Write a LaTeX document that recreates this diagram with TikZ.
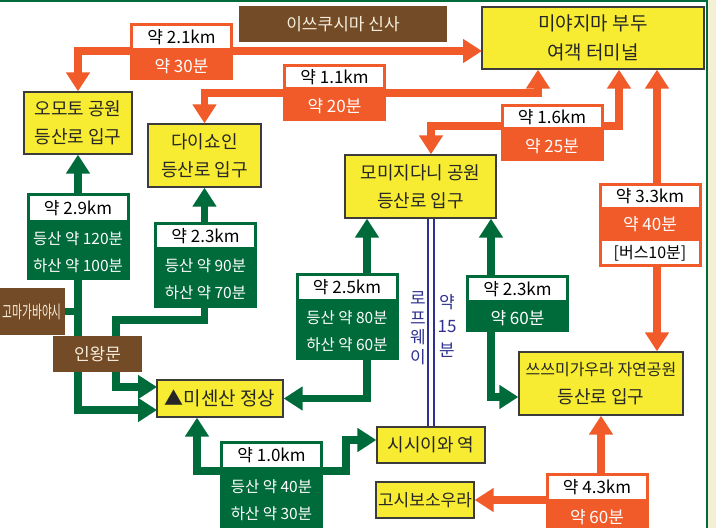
\documentclass[tikz,border=0pt]{standalone}
\usepackage{fontspec}
\setmainfont{Noto Sans CJK KR}
\usepackage{graphicx}
\usetikzlibrary{arrows.meta,positioning}

\definecolor{routeorange}{HTML}{F15A29}
\definecolor{routegreen}{HTML}{006B3A}
\definecolor{spotyellow}{HTML}{F7EC31}
\definecolor{gatebrown}{HTML}{744B27}
\definecolor{gatetext}{HTML}{F6EEDC}
\definecolor{ropeblue}{HTML}{2E3192}
\definecolor{boxline}{HTML}{3C3C3C}
\definecolor{mapbg}{HTML}{F3F0D6}

\tikzset{rtip/.tip={Triangle[length=19pt,width=23pt]}}

\begin{document}
\begin{tikzpicture}[
    x=1pt, y=-1pt,
    spot/.style={rectangle, draw=boxline, line width=1.3pt, fill=spotyellow, text=black!85, align=center, inner sep=2pt, font=\fontsize{18}{28}\selectfont},
    gate/.style={rectangle, fill=gatebrown, text=gatetext, inner sep=0pt, font=\fontsize{17}{28}\selectfont},
    okm/.style={rectangle, fill=white, draw=routeorange, line width=3pt, minimum width=100pt, inner sep=0pt, font=\fontsize{17}{20}\selectfont},
    otime/.style={rectangle, fill=routeorange, text=white, minimum width=103pt, inner sep=0pt, font=\fontsize{17}{20}\selectfont},
    gkm/.style={rectangle, fill=white, draw=routegreen, line width=3pt, minimum width=100pt, inner sep=0pt, font=\fontsize{17}{20}\selectfont},
    gtime/.style={rectangle, fill=routegreen, text=white, minimum width=103pt, inner sep=0pt, align=center, font=\fontsize{15.5}{27}\selectfont},
    oleg/.style={draw=routeorange, line width=7.5pt, rtip-rtip},
    gleg/.style={draw=routegreen, line width=7.5pt, rtip-rtip},
    gline/.style={draw=routegreen, line width=7.5pt},
    rope/.style={draw=ropeblue, line width=2pt, double=white, double distance=4pt},
    ropetext/.style={text=ropeblue, align=center, inner sep=0pt}
]
\useasboundingbox (0,0) rectangle (716,528);

% Map edge
\fill[mapbg] (707,0) rectangle (716,528);
\draw[routegreen, line width=2pt] (707,0) -- (707,528);
\draw[routegreen, line width=1.5pt] (0,0.75) -- (707,0.75);

% Places
\node[spot, minimum width=222pt, minimum height=62pt, font=\fontsize{19}{29}\selectfont] (miya) at (593,38) {미야지마 부두\\여객 터미널};
\node[gate, minimum width=208pt, minimum height=36pt] (shrine) at (343,24) {이쓰쿠시마 신사};
\node[spot, minimum width=108pt, minimum height=62pt] (omoto) at (78,123) {오모토 공원\\등산로 입구};
\node[spot, minimum width=113pt, minimum height=63pt] (daisho) at (204.5,155.5) {다이쇼인\\등산로 입구};
\node[spot, minimum width=151pt, minimum height=63pt] (momiji) at (420.5,186.5) {모미지다니 공원\\등산로 입구};
\node[spot, minimum width=126pt, minimum height=37pt, font=\fontsize{19}{28}\selectfont] (misen) at (220,398.5) {▲미센산 정상};
\node[spot, minimum width=164pt, minimum height=63pt] (tsutsu) at (601,383.5) {{\fontsize{16}{28}\selectfont 쓰쓰미가우라 자연공원}\\등산로 입구};
\node[spot, minimum width=108pt, minimum height=36pt] (shishi) at (431,445) {시시이와 역};
\node[spot, minimum width=98pt, minimum height=36pt, font=\fontsize{17}{28}\selectfont] (koshi) at (425,500) {고시보소우라};
\node[gate, minimum width=65pt, minimum height=47pt, anchor=east] (koma) at (65,311.5) {\scalebox{0.61}[1]{\fontsize{17.5}{20}\selectfont 고마가바야시}};

% Junctions
\coordinate (a1) at (482,51);
\coordinate (k2) at (538,93);
\coordinate (k3) at (619,126);
\coordinate (k3b) at (431,126);
\coordinate (k4) at (657,0);
\coordinate (m1) at (157,387);
\coordinate (m2) at (157,410);
\coordinate (k6) at (116,320);
\coordinate (k7) at (367,0);
\coordinate (k8) at (491,397);
\coordinate (k9) at (197,471);
\coordinate (k10) at (346,440);

% Bus and walking routes
\draw[oleg] (omoto.north) |- (a1);
\draw[oleg] (daisho.north) |- (k2) -- (k2 |- miya.south);
\draw[oleg] (k3b |- momiji.north) -- (k3b) -- (k3) -- (k3 |- miya.south);
\draw[oleg] (k4 |- miya.south) -- (k4 |- tsutsu.north);
\draw[oleg] (koshi.east) -| (tsutsu.south);

% Hiking trails
\draw[gline] (koma.east) -- (koma.east -| omoto.south);
\draw[gleg] (omoto.south) |- (m2);
\draw[gleg] (daisho.south) |- (k6) |- (m1);
\draw[gleg] (k7 |- momiji.south) |- (misen.east);
\draw[gleg] (k8 |- momiji.south) -- (k8) -- (k8 -| tsutsu.west);
\draw[gleg] (k9 |- misen.south) -- (k9) -| (k10) -- (k10 -| shishi.west);

% Ropeway
\draw[rope] (shishi.north |- momiji.south) -- (shishi.north);
\node[ropetext, font=\fontsize{17}{19.5}\selectfont] (ropename) at (418,328) {로\\프\\웨\\이};
\node[ropetext, font=\fontsize{17}{24}\selectfont] (ropetime) at (447,326) {약\\15\\분};

\node[gate, minimum width=89pt, minimum height=36pt] (niomon) at (97.5,354) {인왕문};

% Orange labels
\node[okm, minimum height=25pt] (km21) at (181.5,37) {약 2.1km};
\node[otime, minimum height=29pt, below=0pt of km21] (t21) {약 30분};
\node[okm, minimum height=23pt] (km11) at (334.5,77) {약 1.1km};
\node[otime, minimum height=31pt, below=0pt of km11] (t11) {약 20분};
\node[okm, minimum height=23pt] (km16) at (552,117) {약 1.6km};
\node[otime, minimum height=31pt, below=0pt of km16] (t16) {약 25분};
\node[okm, minimum height=24pt] (km33) at (650,196.5) {약 3.3km};
\node[otime, minimum height=28pt, below=0pt of km33] (t33) {약 40분};
\node[okm, minimum height=26pt, below=0pt of t33, font=\fontsize{16}{20}\selectfont] (bus33) {[버스10분]};
\node[okm, minimum height=26pt] (km43) at (597,487.5) {약 4.3km};
\node[otime, minimum height=30pt, below=0pt of km43] (t43) {약 60분};

% Green labels
\node[gkm, minimum height=27pt] (km29) at (78,208) {약 2.9km};
\node[gtime, minimum height=57pt, below=0pt of km29] (t29) {등산 약 120분\\하산 약 100분};
\node[gkm, minimum height=25pt] (km23a) at (205.5,236) {약 2.3km};
\node[gtime, minimum height=58pt, below=0pt of km23a] (t23a) {등산 약 90분\\하산 약 70분};
\node[gkm, minimum height=26pt] (km25) at (347,287.5) {약 2.5km};
\node[gtime, minimum height=58pt, below=0pt of km25] (t25) {등산 약 80분\\하산 약 60분};
\node[gkm, minimum height=25pt] (km23b) at (517.5,289) {약 2.3km};
\node[gtime, minimum height=29pt, below=0pt of km23b, font=\fontsize{17}{20}\selectfont] (t23b) {약 60분};
\node[gkm, minimum height=26pt] (km10) at (271.5,455.5) {약 1.0km};
\node[gtime, minimum height=60pt, below=0pt of km10] (t10) {등산 약 40분\\하산 약 30분};

\end{tikzpicture}
\end{document}
